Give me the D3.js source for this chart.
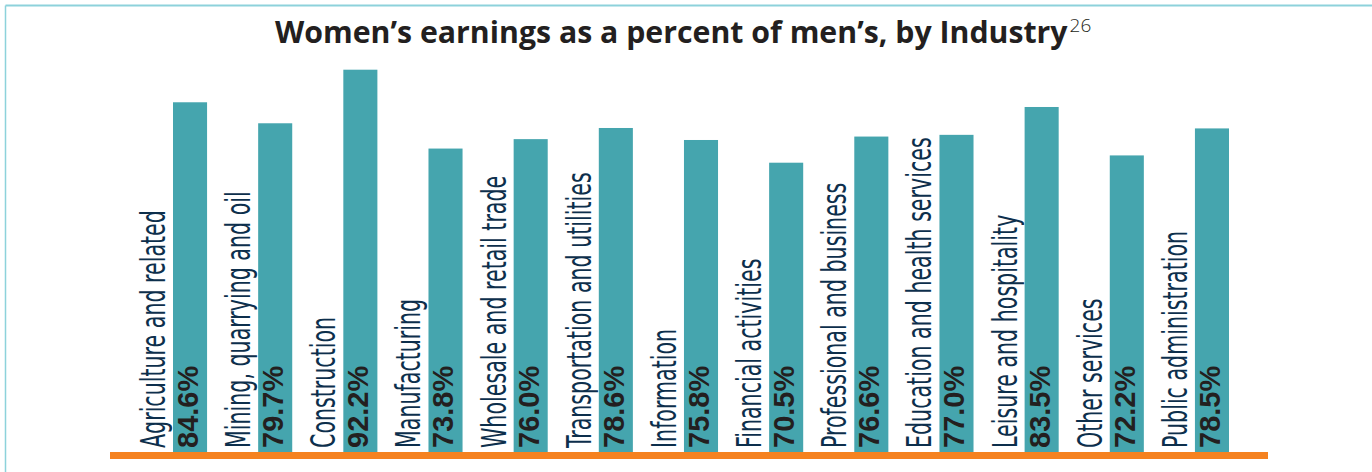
<!DOCTYPE html>
<html>
<head>
  <meta charset="utf-8">
  <title>Women's earnings as a percent of men's, by Industry</title>
  <script src="https://d3js.org/d3.v7.min.js"></script>
  <style>
    body { margin: 0; background: #fff; }
    .cat-label {
      font-family: "Liberation Sans Narrow", "DejaVu Sans Condensed", sans-serif;
      font-size: 33px;
      fill: #0d2f4c;
    }
    .val-label {
      font-family: "Liberation Sans", Arial, sans-serif;
      font-weight: bold;
      font-size: 29px;
      fill: #231f20;
    }
    .title {
      font-family: "Open Sans", sans-serif;
      font-weight: bold;
      font-size: 32px;
      fill: #231f20;
    }
    .footnote {
      font-weight: 300;
    }
  </style>
</head>
<body>
  <svg width="1372" height="472"></svg>
  <script>
    // Industries, left to right
    const industries = [
      "Agriculture and related",
      "Mining, quarrying and oil",
      "Construction",
      "Manufacturing",
      "Wholesale and retail trade",
      "Transportation and utilities",
      "Information",
      "Financial activities",
      "Professional and business",
      "Education and health services",
      "Leisure and hospitality",
      "Other services",
      "Public administration"
    ];

    // Women's earnings as % of men's
    const earnings = [84.6, 79.7, 92.2, 73.8, 76.0, 78.6, 75.8, 70.5, 76.6, 77.0, 83.5, 72.2, 78.5];

    const titleText = "Women\u2019s earnings as a percent of men\u2019s, by Industry";
    const footnoteRef = "26";

    const data = industries.map((name, i) => ({ name: name, value: earnings[i] }));

    const svg = d3.select("svg");
    const baseY = 452;

    // frame lines (top and left)
    svg.append("line")
      .attr("x1", 5.5).attr("y1", 5.5).attr("x2", 1372).attr("y2", 5.5)
      .attr("stroke", "#8dd2db").attr("stroke-width", 2);
    svg.append("line")
      .attr("x1", 5.5).attr("y1", 5.5).attr("x2", 5.5).attr("y2", 472)
      .attr("stroke", "#8dd2db").attr("stroke-width", 1.5);

    const x = d3.scaleBand()
      .domain(industries)
      .range([173, 1229])
      .paddingInner(0.6)
      .paddingOuter(0);

    // axis does not start at zero in the original; bars are cut at the baseline
    const y = d3.scaleLinear()
      .domain([3, 95])
      .range([baseY, 57.7]);

    // bars
    svg.selectAll("rect.bar")
      .data(data)
      .enter()
      .append("rect")
      .attr("class", "bar")
      .attr("x", d => x(d.name))
      .attr("y", d => y(d.value))
      .attr("width", x.bandwidth())
      .attr("height", d => baseY - y(d.value))
      .attr("fill", "#45a5ae");

    // category labels, rotated, left of each bar
    const catLabels = svg.selectAll("text.cat-label")
      .data(data)
      .enter()
      .append("text")
      .attr("class", "cat-label")
      .attr("transform", d => `translate(${x(d.name) - 8},448) rotate(-90)`)
      .text(d => d.name);

    // the original uses a very condensed face; squeeze so the first label is ~238px long
    const firstLen = catLabels.node().getComputedTextLength();
    const sx = 238 / firstLen;
    catLabels.attr("transform", d => `translate(${x(d.name) - 8},448) rotate(-90) scale(${sx},1)`);

    // value labels inside bars
    svg.selectAll("text.val-label")
      .data(data)
      .enter()
      .append("text")
      .attr("class", "val-label")
      .attr("transform", d => `translate(${x(d.name) + 25},448) rotate(-90)`)
      .text(d => d.value.toFixed(1) + "%");

    // orange baseline
    svg.append("rect")
      .attr("x", 110).attr("y", baseY)
      .attr("width", 1158).attr("height", 7)
      .attr("fill", "#f58220");

    // title with superscript footnote marker in one text element
    const title = svg.append("text")
      .attr("class", "title")
      .attr("x", 275).attr("y", 43);
    const mainSpan = title.append("tspan").text(titleText);
    // fit the main title to ~793px wide
    const tLen = mainSpan.node().getComputedTextLength();
    title.style("font-size", (32 * 793 / tLen) + "px");
    title.append("tspan")
      .attr("class", "footnote")
      .attr("dx", 2)
      .attr("dy", -11)
      .style("font-size", "19px")
      .text(footnoteRef);
  </script>
</body>
</html>
